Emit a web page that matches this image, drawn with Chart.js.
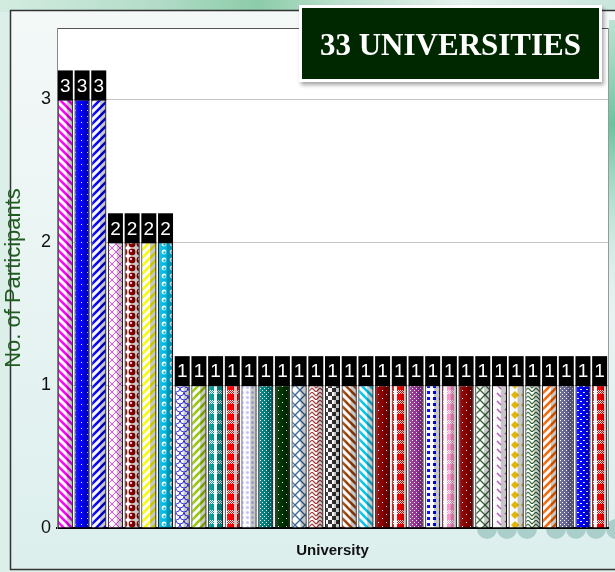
<!DOCTYPE html>
<html>
<head>
<meta charset="utf-8">
<script src="https://cdn.jsdelivr.net/npm/chart.js@4/dist/chart.umd.min.js"></script>
<style>
  html, body { margin: 0; padding: 0; }
  body { width: 615px; height: 572px; position: relative; overflow: hidden; }
  #c { position: absolute; left: 0; top: 0; }
  #titleBox {
    position: absolute; left: 299px; top: 5px; width: 297px; height: 71px;
    background: #002800; border: 3px solid #ffffff;
    box-shadow: 2px 3px 4px rgba(0,0,0,0.35);
    color: #ffffff; font-family: "Liberation Serif", "DejaVu Serif", serif;
    font-size: 31px; font-weight: bold; line-height: 73px; text-align: center;
  }
</style>
</head>
<body>
<canvas id="c" width="615" height="572"></canvas>
<div id="titleBox">33 UNIVERSITIES</div>
<script>
// ---- data ----
const universities = [
  'U1','U2','U3','U4','U5','U6','U7','U8','U9','U10','U11',
  'U12','U13','U14','U15','U16','U17','U18','U19','U20','U21','U22',
  'U23','U24','U25','U26','U27','U28','U29','U30','U31','U32','U33'
];
const participants = [
  3, 3, 3, 2, 2, 2, 2, 1, 1, 1, 1,
  1, 1, 1, 1, 1, 1, 1, 1, 1, 1, 1,
  1, 1, 1, 1, 1, 1, 1, 1, 1, 1, 1
];
const yTickValues = [0, 1, 2, 3];
const yAxisTitle = 'No. of Participants';
const xAxisTitle = 'University';

// ---- styles (bar fill patterns) ----
const barColors = [
  '#ff00ff','#0000ff','#0000ff','#ff44ff','#8b0000','#ffff00','#00bde6','#3333ff','#99cc00','#009999','#ff0000',
  '#c8c8ff','#008080','#003300','#336699','#aa3333','#333333','#a0400a','#00c8f0','#8b0000','#ff0000','#993399',
  '#0000ff','#ff99cc','#8b0000','#336633','#bb55bb','#e6b800','#336633','#ff6600','#666699','#0000ff','#ff0000'
];
const barPatterns = [
  'diagL','dots','diagR','lattice','circles','diagR','bubbles','scallop','diagR','plaid','plaid',
  'lightdots','grid','darkdots','cross','weave','checker','diagL','diagL','darkdots','plaid','grid',
  'squares','plaid','darkdots','cross','dash','diamond','weave','diagR','grid','bluedots','plaid'
];

function makeTile(type, c) {
  const sizes = {diagL:8, diagR:8, dots:6, lattice:8, circles:8, bubbles:8, scallop:8, plaid:10,
    lightdots:5, grid:4, darkdots:8, cross:10, weave:8, checker:8, squares:6, dash:8, diamond:10, bluedots:6};
  const s = sizes[type] || 8;
  const cv = document.createElement('canvas');
  cv.width = s; cv.height = s;
  const g = cv.getContext('2d');
  const bg = (col) => { g.fillStyle = col; g.fillRect(0, 0, s, s); };
  const line = (pts, w) => {
    g.strokeStyle = c; g.lineWidth = w; g.beginPath();
    for (const p of pts) { g.moveTo(p[0], p[1]); g.lineTo(p[2], p[3]); }
    g.stroke();
  };
  switch (type) {
    case 'diagR':
      bg('#ffffff');
      line([[0,s,s,0],[-s/2,s/2,s/2,-s/2],[s/2,s*1.5,s*1.5,s/2]], 2.6); break;
    case 'diagL':
      bg('#ffffff');
      line([[0,0,s,s],[-s/2,s/2,s/2,s*1.5],[s/2,-s/2,s*1.5,s/2]], 2.6); break;
    case 'dots':
      bg(c); g.fillStyle = '#ffffff'; g.fillRect(3, 2, 1, 1); break;
    case 'lattice':
      bg('#ffffff'); line([[0,0,s,s],[0,s,s,0]], 1); break;
    case 'circles':
      bg('#ffffff'); g.fillStyle = c; g.beginPath(); g.arc(4, 4, 3.4, 0, Math.PI*2); g.fill();
      g.fillStyle = '#ffffff'; g.beginPath(); g.arc(3, 3, 1.1, 0, Math.PI*2); g.fill(); break;
    case 'bubbles':
      bg(c); g.fillStyle = '#ffffff'; g.beginPath(); g.arc(4, 4, 2.4, 0, Math.PI*2); g.fill();
      g.fillStyle = c; g.beginPath(); g.arc(4.5, 4.5, 1.2, 0, Math.PI*2); g.fill(); break;
    case 'scallop':
      bg('#ffffff'); g.strokeStyle = c; g.lineWidth = 1;
      g.beginPath(); g.arc(4, 0, 4, 0, Math.PI); g.stroke();
      g.beginPath(); g.arc(0, 4, 4, 0, Math.PI); g.stroke();
      g.beginPath(); g.arc(8, 4, 4, 0, Math.PI); g.stroke(); break;
    case 'plaid':
      bg(c); g.fillStyle = '#ffffff'; g.fillRect(4, 0, 3, s);
      for (let x = 0; x < s; x++) for (let y = 0; y < 4; y++) if ((x + y) % 2 === 0) g.fillRect(x, y, 1, 1);
      break;
    case 'lightdots':
      bg('#ffffff'); g.fillStyle = c; g.beginPath(); g.arc(2.5, 2.5, 1.5, 0, Math.PI*2); g.fill(); break;
    case 'grid':
      bg(c); g.fillStyle = '#ffffff'; g.fillRect(0, 0, 1, 1); g.fillRect(2, 2, 1, 1); break;
    case 'darkdots':
      bg(c); g.fillStyle = '#ffffff'; g.fillRect(2, 2, 1, 1); g.fillRect(6, 6, 1, 1); break;
    case 'cross':
      bg('#ffffff'); line([[0,0,s,s],[0,s,s,0]], 1.3); break;
    case 'weave':
      bg('#ffffff'); g.strokeStyle = c; g.lineWidth = 1.2; g.beginPath();
      g.moveTo(0, 0); g.lineTo(4, 4); g.lineTo(8, 0);
      g.moveTo(0, 4); g.lineTo(4, 8); g.lineTo(8, 4); g.stroke(); break;
    case 'checker':
      bg('#ffffff'); g.fillStyle = c; g.fillRect(0, 0, 4, 4); g.fillRect(4, 4, 4, 4); break;
    case 'squares':
      bg('#ffffff'); g.fillStyle = c; g.fillRect(1, 1, 3, 3); break;
    case 'dash':
      bg('#ffffff'); line([[1,1,5,5]], 1.5); break;
    case 'diamond':
      bg('#ffffff'); g.fillStyle = c; g.beginPath();
      g.moveTo(5, 1); g.lineTo(9, 5); g.lineTo(5, 9); g.lineTo(1, 5); g.closePath(); g.fill(); break;
    case 'bluedots':
      bg(c); g.fillStyle = '#ffffff'; g.fillRect(1, 2, 2, 1); g.fillRect(4, 5, 2, 1); break;
    default:
      bg(c);
  }
  return cv;
}

const canvas = document.getElementById('c');
const ctx0 = canvas.getContext('2d');
const barFills = barPatterns.map((p, i) => ctx0.createPattern(makeTile(p, barColors[i]), 'repeat'));

// ---- plugins ----
const backgroundPlugin = {
  id: 'slideBackground',
  beforeDraw(chart) {
    const ctx = chart.ctx;
    const W = chart.width, H = chart.height;
    ctx.save();
    ctx.fillStyle = '#dcefe9';
    ctx.fillRect(0, 0, W, H);
    let g = ctx.createLinearGradient(0, 0, W, 0);
    g.addColorStop(0, '#d3ece1'); g.addColorStop(0.25, '#b3dcc8'); g.addColorStop(0.42, '#8ccca9');
    g.addColorStop(0.55, '#b9e0cc'); g.addColorStop(0.75, '#e6f3ee'); g.addColorStop(1, '#c9e6dc');
    ctx.fillStyle = g; ctx.fillRect(0, 0, W, 12);
    g = ctx.createLinearGradient(0, 10, 0, 570);
    g.addColorStop(0, '#f4f9f8'); g.addColorStop(1, '#dcefed');
    ctx.fillStyle = g; ctx.fillRect(10, 10, W, 560);
    g = ctx.createLinearGradient(0, 20, 0, 320);
    g.addColorStop(0, 'rgba(150,210,185,0.6)'); g.addColorStop(0.35, 'rgba(90,190,150,0.9)');
    g.addColorStop(1, 'rgba(200,232,225,0)');
    ctx.fillStyle = g; ctx.fillRect(609, 20, 6, 300);
    ctx.strokeStyle = '#333333'; ctx.lineWidth = 1.5;
    ctx.beginPath(); ctx.moveTo(W + 2, 10.5); ctx.lineTo(10.5, 10.5); ctx.lineTo(10.5, 569.5); ctx.lineTo(W + 2, 569.5); ctx.stroke();
    const a = chart.chartArea;
    ctx.fillStyle = '#aacfcb';
    for (const cx of [487, 507, 527, 556, 576, 596, 616]) {
      ctx.beginPath(); ctx.arc(cx, a.bottom + 1, 10, 0, Math.PI * 2); ctx.fill();
    }
    ctx.fillStyle = '#ffffff';
    ctx.fillRect(a.left, a.top, a.right - a.left, a.bottom - a.top);
    ctx.strokeStyle = '#555555'; ctx.lineWidth = 1;
    ctx.beginPath(); ctx.moveTo(a.left, a.top + 0.5); ctx.lineTo(a.right + 0.5, a.top + 0.5); ctx.stroke();
    ctx.strokeStyle = '#999999';
    ctx.beginPath(); ctx.moveTo(a.right + 0.5, a.top); ctx.lineTo(a.right + 0.5, a.bottom); ctx.stroke();
    ctx.restore();
  }
};

const barDecorPlugin = {
  id: 'barDecor',
  afterDatasetsDraw(chart) {
    const ctx = chart.ctx;
    const meta = chart.getDatasetMeta(0);
    ctx.save();
    meta.data.forEach((bar) => {
      const w = bar.width, l = bar.x - w / 2;
      const g = ctx.createLinearGradient(l, 0, l + w, 0);
      g.addColorStop(0, 'rgba(0,0,0,0.25)');
      g.addColorStop(0.12, 'rgba(255,255,255,0.10)');
      g.addColorStop(0.55, 'rgba(0,0,0,0.0)');
      g.addColorStop(0.62, 'rgba(0,0,0,0.22)');
      g.addColorStop(0.88, 'rgba(0,0,0,0.22)');
      g.addColorStop(1, 'rgba(0,0,0,0.45)');
      ctx.fillStyle = g;
      ctx.fillRect(l, bar.y, w, bar.base - bar.y);
    });
    ctx.font = '19px "Liberation Sans", Arial, sans-serif';
    ctx.textAlign = 'center'; ctx.textBaseline = 'middle';
    meta.data.forEach((bar, i) => {
      ctx.fillStyle = '#000000';
      ctx.fillRect(bar.x - 7.5, bar.y - 29, 15, 30);
      ctx.fillStyle = '#ffffff';
      ctx.fillText(String(participants[i]), bar.x, bar.y - 13);
    });
    ctx.restore();
  }
};

new Chart(canvas, {
  type: 'bar',
  data: {
    labels: universities,
    datasets: [{
      data: participants,
      backgroundColor: barFills,
      borderColor: '#1a1a1a',
      borderWidth: 1,
      barPercentage: 0.9,
      categoryPercentage: 1.0
    }]
  },
  options: {
    responsive: false,
    animation: false,
    devicePixelRatio: 1,
    layout: { padding: { left: 0, top: 28, right: 7, bottom: 0 } },
    plugins: { legend: { display: false }, tooltip: { enabled: false } },
    scales: {
      x: {
        grid: { display: false, drawTicks: false },
        ticks: { display: false },
        border: { color: '#000000', width: 2 },
        title: {
          display: true, text: xAxisTitle, color: '#111111',
          font: { family: '"Liberation Sans", Arial, sans-serif', size: 15, weight: 'bold' },
          padding: { top: 0, bottom: 12 }
        },
        afterFit(s) { s.height = 44; }
      },
      y: {
        min: 0, max: 3.5,
        afterBuildTicks(s) { s.ticks = yTickValues.map(v => ({ value: v })); },
        ticks: {
          color: '#111111', padding: 6,
          font: { family: '"Liberation Sans", Arial, sans-serif', size: 18 }
        },
        grid: { color: '#c4c4c4', drawTicks: false },
        border: { color: '#888888', width: 1 },
        title: {
          display: true, text: yAxisTitle, color: '#1f5c1f',
          font: { family: '"Liberation Sans", Arial, sans-serif', size: 22 },
          padding: { top: 1, bottom: 0 }
        },
        afterFit(s) { s.width = 57; }
      }
    }
  },
  plugins: [backgroundPlugin, barDecorPlugin]
});
</script>
</body>
</html>
